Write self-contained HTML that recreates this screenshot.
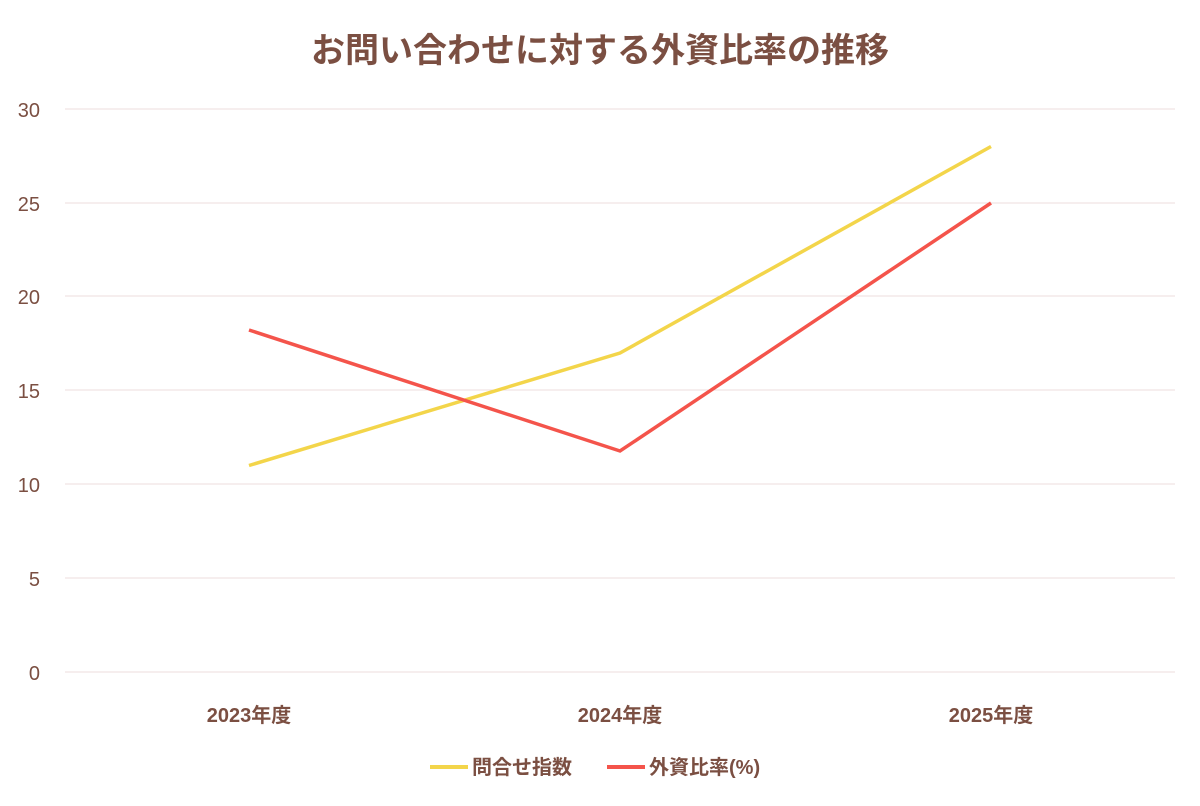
<!DOCTYPE html>
<html><head><meta charset="utf-8"><style>
html,body{margin:0;padding:0;background:#fff;}
text{font-family:"Liberation Sans","Noto Sans CJK JP",sans-serif;fill:#7b4f42;}
</style></head><body>
<svg width="1200" height="801" viewBox="0 0 1200 801" xmlns="http://www.w3.org/2000/svg">
<text x="600" y="62" text-anchor="middle" font-size="34" font-weight="bold">お問い合わせに対する外資比率の推移</text>
<g stroke="#eedddd" stroke-width="1">
<line x1="65" x2="1175" y1="109" y2="109"/><line x1="65" x2="1175" y1="203" y2="203"/>
<line x1="65" x2="1175" y1="296" y2="296"/><line x1="65" x2="1175" y1="390" y2="390"/>
<line x1="65" x2="1175" y1="484" y2="484"/><line x1="65" x2="1175" y1="578" y2="578"/>
<line x1="65" x2="1175" y1="672" y2="672"/>
</g>
<g font-size="20" text-anchor="end">
<text x="40" y="117">30</text><text x="40" y="211">25</text><text x="40" y="304">20</text>
<text x="40" y="398">15</text><text x="40" y="492">10</text><text x="40" y="586">5</text><text x="40" y="680">0</text>
</g>
<g font-size="20" text-anchor="middle" font-weight="bold">
<text x="249" y="722">2023年度</text><text x="620" y="722">2024年度</text><text x="991" y="722">2025年度</text>
</g>
<polyline points="249,465.5 620,353 991,146.5" fill="none" stroke="#f3d54a" stroke-width="3.5"/>
<polyline points="249,330 620,451 991,203" fill="none" stroke="#f4544b" stroke-width="3.5"/>
<line x1="430" x2="468" y1="767" y2="767" stroke="#f3d54a" stroke-width="4"/>
<text x="472" y="774" font-size="20" font-weight="bold">問合せ指数</text>
<line x1="607" x2="645" y1="767" y2="767" stroke="#f4544b" stroke-width="4"/>
<text x="649" y="774" font-size="20" font-weight="bold">外資比率(%)</text>
</svg>
</body></html>
